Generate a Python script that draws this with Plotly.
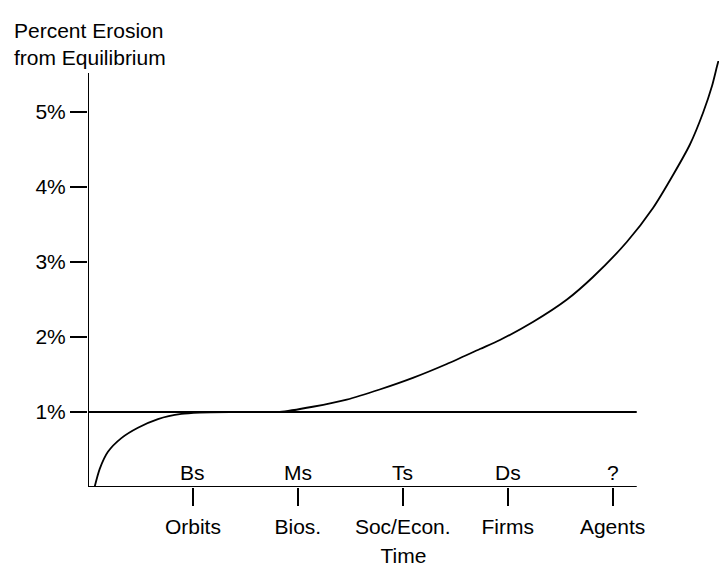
import plotly.graph_objects as go

# ---- data ----
stage_pos = [1, 2, 3, 4, 5]
stages_top = ["Bs", "Ms", "Ts", "Ds", "?"]
stages_bottom = ["Orbits", "Bios.", "Soc/Econ.", "Firms", "Agents"]
y_ticks = [1, 2, 3, 4, 5]
y_tick_labels = ["1%", "2%", "3%", "4%", "5%"]

curve_x = [0.063, 0.111, 0.19, 0.318, 0.476, 0.667, 0.89, 1.064, 1.35, 1.64,
           1.827, 2.142, 2.466, 2.78, 3.096, 3.42, 3.735, 3.926, 4.24, 4.565,
           4.813, 5.137, 5.385, 5.576, 5.738, 5.862, 5.948, 5.995, 6.014]
curve_y = [0.0, 0.239, 0.469, 0.652, 0.79, 0.906, 0.975, 0.993, 1.0, 1.0,
           1.0, 1.07, 1.165, 1.30, 1.455, 1.64, 1.84, 1.96, 2.2, 2.5,
           2.8, 3.27, 3.72, 4.16, 4.57, 4.99, 5.35, 5.61, 5.71]

equilibrium_x = [0, 5.23]
equilibrium_y = [1.0, 1.0]
x_axis_x = [0, 5.23]
x_axis_y = [0, 0]
y_axis_x = [0, 0]
y_axis_y = [0, 5.52]

FONT = "Liberation Sans, Arial, Helvetica, sans-serif"
FS = 21

fig = go.Figure()
line_style = dict(color="black", width=2)
fig.add_trace(go.Scatter(x=x_axis_x, y=x_axis_y, mode="lines", line=line_style,
                         hoverinfo="skip", showlegend=False))
fig.add_trace(go.Scatter(x=y_axis_x, y=y_axis_y, mode="lines", line=line_style,
                         hoverinfo="skip", showlegend=False))
fig.add_trace(go.Scatter(x=equilibrium_x, y=equilibrium_y, mode="lines",
                         line=dict(color="black", width=1.8), showlegend=False))
fig.add_trace(go.Scatter(x=curve_x, y=curve_y, mode="lines",
                         line=dict(color="black", width=1.8, shape="spline", smoothing=0.7),
                         showlegend=False))

for p, t in zip(stage_pos, stages_top):
    fig.add_annotation(x=p, y=0, text=t, showarrow=False, yanchor="bottom",
                       yshift=1, font=dict(family=FONT, size=FS, color="black"))

fig.add_annotation(xref="paper", yref="paper", x=-0.121, y=1.104,
                   xanchor="left", yanchor="top", align="left", showarrow=False,
                   text="Percent Erosion<br>from Equilibrium",
                   font=dict(family=FONT, size=FS, color="black"))

fig.update_layout(
    width=719, height=567,
    margin=dict(l=88, r=0, t=61, b=80),
    paper_bgcolor="white", plot_bgcolor="white",
    font=dict(family=FONT, size=FS, color="black"),
    xaxis=dict(range=[0, 6.014], showgrid=False, zeroline=False, showline=False,
               automargin=False,
               tickmode="array", tickvals=stage_pos, ticktext=stages_bottom,
               ticks="outside", ticklen=18, tickwidth=1.8, tickcolor="black",
               ticklabelstandoff=3,
               title=dict(text="Time", standoff=11, font=dict(family=FONT, size=FS)),
               fixedrange=True),
    yaxis=dict(range=[0, 5.68], showgrid=False, zeroline=False, showline=False,
               automargin=False,
               tickmode="array", tickvals=y_ticks, ticktext=y_tick_labels,
               ticks="outside", ticklen=17, tickwidth=1.8, tickcolor="black",
               fixedrange=True),
)

fig.write_html("out.html", config={"displayModeBar": False},
               post_script="document.body.style.margin='0px';")
